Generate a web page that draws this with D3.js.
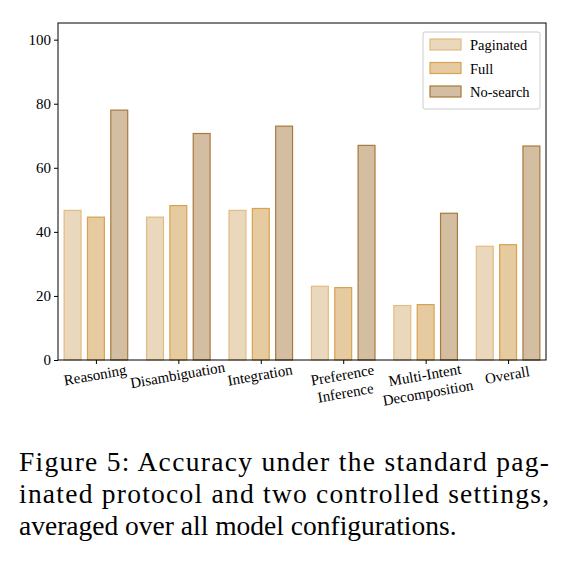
<!DOCTYPE html>
<html><head><meta charset="utf-8">
<script src="https://cdn.jsdelivr.net/npm/d3@7"></script>
<style>body{margin:0;background:#fff}</style></head>
<body><svg id="main"></svg>
<script>
const categories = [['Reasoning'], ['Disambiguation'], ['Integration'], ['Preference', 'Inference'], ['Multi-Intent', 'Decomposition'], ['Overall']];
const seriesNames = ['Paginated', 'Full', 'No-search'];
const paginated = [46.7, 44.6, 46.7, 23.0, 17.0, 35.5];
const full = [44.6, 48.2, 47.3, 22.6, 17.3, 36.0];
const noSearch = [78.0, 70.7, 73.0, 67.0, 45.8, 66.8];
const yTicks = [0, 20, 40, 60, 80, 100];
const fills = ['#ead8bd', '#e6caa0', '#d3bea1'];
const edges = ['#e3bb80', '#d9a24f', '#a9793b'];

const font = 'Liberation Serif, Times New Roman, serif';
const svg = d3.select('#main').attr('width', 566).attr('height', 562);
const series = [paginated, full, noSearch];

const x = d3.scaleLinear().domain([-0.46, 5.46]).range([58, 546]);
const y = d3.scaleLinear().domain([0, 105.2]).range([360, 23]);
const bw = 0.205, off = 0.283;

series.forEach((vals, s) => {
  svg.selectAll('.b' + s).data(vals).enter().append('rect')
    .attr('x', (d, i) => x(i + (s - 1) * off - bw / 2))
    .attr('width', x(bw) - x(0))
    .attr('y', d => y(d))
    .attr('height', d => y(0) - y(d))
    .attr('fill', fills[s]).attr('stroke', edges[s]).attr('stroke-width', 1.2);
});

const yAxis = svg.append('g').attr('transform', 'translate(58,0)')
  .call(d3.axisLeft(y).tickValues(yTicks).tickSize(4).tickSizeOuter(0));
yAxis.selectAll('text').attr('font-family', font).attr('font-size', 15).attr('fill', '#000');
yAxis.select('.domain').remove();

const xAxis = svg.append('g').attr('transform', 'translate(0,360)')
  .call(d3.axisBottom(x).tickValues(d3.range(6)).tickSize(4).tickFormat(''));
xAxis.select('.domain').remove();

svg.append('rect').attr('x', 58).attr('y', 23).attr('width', 488).attr('height', 337)
  .attr('fill', 'none').attr('stroke', '#000').attr('stroke-width', 1);

categories.forEach((lines, i) => {
  const t = svg.append('text')
    .attr('transform', `translate(${x(i)},${380}) rotate(-10)`)
    .attr('text-anchor', 'middle').attr('font-family', font).attr('font-size', 15);
  lines.forEach((l, j) => t.append('tspan').attr('x', 0).attr('dy', j ? 18 : 0).text(l));
});

// legend
const lg = svg.append('g').attr('transform', 'translate(423,32)');
lg.append('rect').attr('width', 117).attr('height', 77).attr('rx', 2)
  .attr('fill', '#fff').attr('stroke', '#ccc');
seriesNames.forEach((n, s) => {
  lg.append('rect').attr('x', 7).attr('y', 7 + s * 23.5).attr('width', 31).attr('height', 11)
    .attr('fill', fills[s]).attr('stroke', edges[s]).attr('stroke-width', 1.2);
  lg.append('text').attr('x', 47).attr('y', 18 + s * 23.5)
    .attr('font-family', font).attr('font-size', 14.5).text(n);
});

const cap = ['Figure 5: Accuracy under the standard pag-', 'inated protocol and two controlled settings,', 'averaged over all model configurations.'];
svg.selectAll('.cap').data(cap).enter().append('text')
  .attr('x', 19).attr('y', (d, i) => 471 + i * 32)
  .attr('font-family', font).attr('font-size', 27.5)
  .attr('textLength', (d, i) => i < 2 ? 530 : null)
  .attr('lengthAdjust', 'spacing')
  .text(d => d);
</script></body></html>
